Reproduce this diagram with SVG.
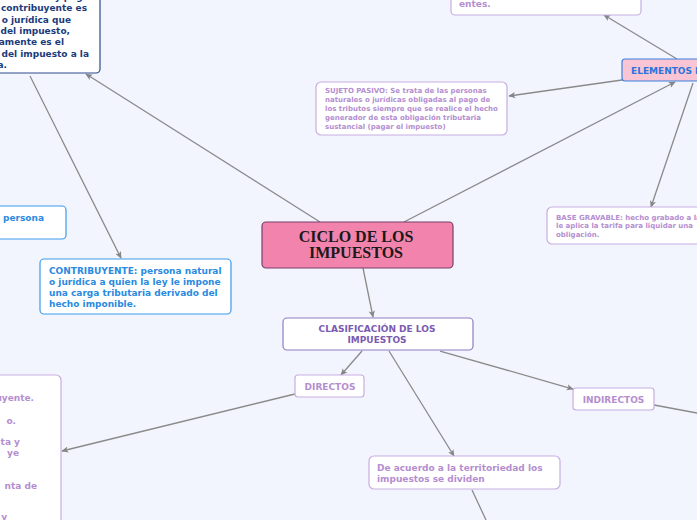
<svg xmlns="http://www.w3.org/2000/svg" width="697" height="520" viewBox="0 0 697 520">
<defs>
<marker id="ah" viewBox="0 0 10 10" refX="9" refY="5" markerWidth="7" markerHeight="7" orient="auto" markerUnits="userSpaceOnUse">
<path d="M0,0.5 L10,5 L0,9.5 L2.5,5 z" fill="#858585"/>
</marker>
<style>
.c{stroke:#8a8a8a;stroke-width:1.3;fill:none}
.a{marker-end:url(#ah)}
text{font-family:"DejaVu Sans","Verdana",sans-serif;font-weight:bold}
text.serif{font-family:"Liberation Serif","Times New Roman",serif;font-size:16px}
.t9{font-size:9px}
.t7{font-size:7px}
.lp{fill:#b48ed0}
.bx{fill:#ffffff;stroke-width:1.2}
.bl{stroke:#c8aee1}
</style>
</defs>
<rect width="697" height="520" fill="#f2f5fe"/>

<g id="connectors">
<line class="c a" x1="320" y1="222" x2="86" y2="74"/>
<line class="c a" x1="30" y1="76" x2="121" y2="258"/>
<line class="c a" x1="404" y1="222" x2="675" y2="82"/>
<line class="c a" x1="677" y1="59" x2="604" y2="15"/>
<line class="c a" x1="622" y1="80" x2="509" y2="96"/>
<line class="c a" x1="693" y1="83" x2="651" y2="207"/>
<line class="c a" x1="363" y1="268" x2="373" y2="317"/>
<line class="c a" x1="362" y1="351" x2="341" y2="375"/>
<line class="c a" x1="440" y1="351" x2="573" y2="389"/>
<line class="c a" x1="389" y1="351" x2="454" y2="456"/>
<line class="c a" x1="295" y1="394" x2="62" y2="451"/>
<line class="c" x1="654" y1="405" x2="697" y2="413"/>
<line class="c" x1="472" y1="490" x2="486" y2="520"/>
</g>

<g id="responsable">
<rect class="bx" x="-10" y="-10" width="110" height="83" rx="4" stroke="#2c4a8c"/>
<g class="t9" fill="#1b3b7b" text-anchor="end">
<text x="89" y="0">es hechos y pago</text>
<text x="87" y="11">contribuyente es</text>
<text x="71" y="22.5">o jurídica que</text>
<text x="70" y="34">del impuesto,</text>
<text x="64" y="45">iamente es el</text>
<text x="89" y="56.5">del impuesto a la</text>
<text x="7" y="67.5">a.</text>
</g>
</g>

<g id="persona">
<rect class="bx" x="-10" y="206" width="76" height="33" rx="4" stroke="#3d9be9"/>
<text class="t9" x="44" y="221" fill="#2a8ae0" text-anchor="end">a persona</text>
</g>

<g id="contribuyente">
<rect class="bx" x="40" y="259" width="191" height="55" rx="4" stroke="#3d9be9"/>
<g class="t9" fill="#2a8ae0">
<text x="49" y="274">CONTRIBUYENTE: persona natural</text>
<text x="49" y="285">o jurídica a quien la ley le impone</text>
<text x="49" y="296">una carga tributaria derivado del</text>
<text x="49" y="307">hecho imponible.</text>
</g>
</g>

<g id="central">
<rect x="262" y="222" width="191" height="46" rx="4" fill="#f283ac" stroke="#7b3d6b" stroke-width="1.2"/>
<g fill="#1a1a1a" text-anchor="middle">
<text class="serif" x="356" y="242">CICLO DE LOS</text>
<text class="serif" x="356" y="258">IMPUESTOS</text>
</g>
</g>

<g id="entes">
<rect class="bx bl" x="451" y="-10" width="190" height="25" rx="4"/>
<text class="t9 lp" x="459" y="7">entes.</text>
</g>

<g id="elementos">
<rect x="622" y="59" width="90" height="22" rx="3" fill="#f9c5d5" stroke="#3b82e0" stroke-width="1.2"/>
<text class="t9" x="631" y="74" fill="#2a74db">ELEMENTOS DEL</text>
</g>

<g id="sujeto">
<rect class="bx bl" x="316" y="82" width="191" height="53" rx="5"/>
<g class="t7 lp">
<text x="325" y="93.3">SUJETO PASIVO: Se trata de las personas</text>
<text x="325" y="102.1">naturales o jurídicas obligadas al pago de</text>
<text x="325" y="110.9">los tributos siempre que se realice el hecho</text>
<text x="325" y="119.7">generador de esta obligación tributaria</text>
<text x="325" y="128.5">sustancial (pagar el impuesto)</text>
</g>
</g>

<g id="base">
<rect class="bx bl" x="547" y="207" width="170" height="37" rx="5"/>
<g class="t7 lp">
<text x="556" y="219.5">BASE GRAVABLE: hecho grabado a la</text>
<text x="556" y="228">le aplica la tarifa para liquidar una</text>
<text x="556" y="236.5">obligación.</text>
</g>
</g>

<g id="clasificacion">
<rect class="bx" x="283" y="318" width="190" height="32" rx="4" stroke="#8e7cc3"/>
<g class="t9" fill="#7a5bb0" text-anchor="middle">
<text x="377" y="332">CLASIFICACIÓN DE LOS</text>
<text x="377" y="343">IMPUESTOS</text>
</g>
</g>

<g id="directos">
<rect class="bx bl" x="295" y="375" width="69" height="22" rx="3"/>
<text class="t9 lp" x="330" y="390" text-anchor="middle">DIRECTOS</text>
</g>

<g id="indirectos">
<rect class="bx bl" x="573" y="388" width="81" height="22" rx="3"/>
<text class="t9 lp" x="613.5" y="403" text-anchor="middle">INDIRECTOS</text>
</g>

<g id="directos-detalle">
<rect class="bx bl" x="-10" y="375" width="71" height="160" rx="5"/>
<g class="t9 lp" text-anchor="end">
<text x="34" y="401">uyente.</text>
<text x="16" y="424">o.</text>
<text x="20" y="445">ta y</text>
<text x="19" y="456">ye</text>
<text x="37" y="489">nta de</text>
<text x="7" y="520">y</text>
</g>
</g>

<g id="territoriedad">
<rect class="bx bl" x="369" y="456" width="191" height="33" rx="5"/>
<g class="t9 lp">
<text x="377" y="471">De acuerdo a la territoriedad los</text>
<text x="377" y="482">impuestos se dividen</text>
</g>
</g>
</svg>
